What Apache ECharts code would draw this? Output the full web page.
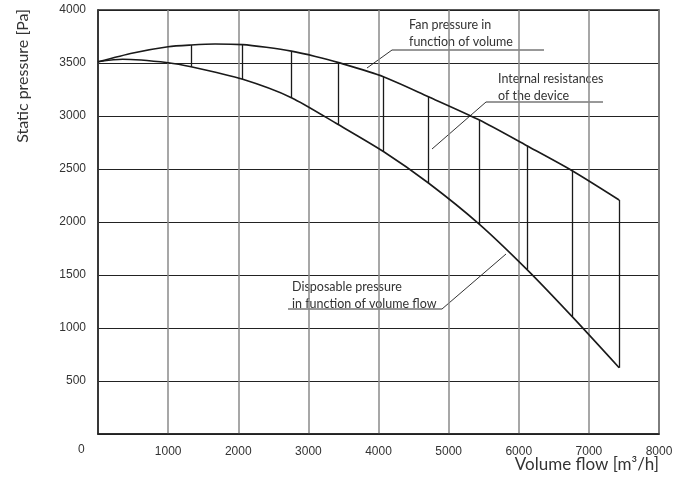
<!DOCTYPE html>
<html>
<head>
<meta charset="utf-8">
<script src="https://cdn.jsdelivr.net/npm/echarts@6/dist/echarts.min.js"></script>
<style>
  html, body { margin: 0; padding: 0; background: #fff; }
  #chart { width: 690px; height: 486px; }
</style>
</head>
<body>
<div id="chart"></div>
<script>
// values
const fanFlow     = [0, 500, 1000, 1327, 1669, 2064, 2400, 2758, 3100, 3419, 4070, 4712, 5440, 6115, 6762, 7432];
const fanPressure = [3512, 3595, 3654, 3670, 3679, 3673, 3648, 3612, 3562, 3506, 3371, 3182, 2962, 2720, 2484, 2208];

const dispFlow     = [0, 350, 1000, 1327, 2064, 2758, 3419, 4070, 4712, 5440, 6115, 6762, 7432];
const dispPressure = [3512, 3535, 3503, 3465, 3346, 3173, 2922, 2665, 2368, 1978, 1553, 1107, 625];

// vertical connectors between the two curves
const stepFlow = [1327, 2064, 2758, 3419, 4070, 4712, 5440, 6115, 6762, 7432];
const stepHigh = [3670, 3673, 3612, 3506, 3371, 3182, 2962, 2720, 2484, 2208];
const stepLow  = [3465, 3346, 3173, 2922, 2665, 2368, 1978, 1553, 1107, 625];

const xTicks = [0, 1000, 2000, 3000, 4000, 5000, 6000, 7000, 8000];
const yTicks = [0, 500, 1000, 1500, 2000, 2500, 3000, 3500, 4000];

const txtFont = 'Lato, "Open Sans", sans-serif';
const lineCol = '#1a1a1a';

let chart = echarts.init(document.getElementById('chart'));

let connectors = stepFlow.map(function (x, i) {
    return [{ coord: [x, stepLow[i]] }, { coord: [x, stepHigh[i]] }];
});

function label(x, y, lines) {
    return {
        type: 'text', left: x, top: y,
        style: { text: lines, font: '12.5px ' + txtFont, fill: '#333', lineHeight: 17 }
    };
}
function seg(pts) {
    return {
        type: 'polyline',
        shape: { points: pts },
        style: { stroke: '#333', lineWidth: 1, fill: null }
    };
}

let option = {
    backgroundColor: '#fff',
    animation: false,
    grid: {
        left: 98, top: 10, right: 31, bottom: 52,
        show: true, borderColor: '#222', borderWidth: 1.5
    },
    xAxis: {
        type: 'value',
        min: xTicks[0], max: xTicks[xTicks.length - 1], interval: 1000,
        axisLine: { show: true, lineStyle: { color: '#222', width: 1.5 } },
        axisTick: { show: false },
        axisLabel: {
            color: '#333', fontSize: 12, fontFamily: 'Liberation Sans, Arial, sans-serif', margin: 12,
            formatter: function (v) { return v === 0 ? '' : String(v); }
        },
        splitLine: { show: true, lineStyle: { color: '#8a8a8a', width: 1.5 } }
    },
    yAxis: {
        type: 'value',
        min: yTicks[0], max: yTicks[yTicks.length - 1], interval: 500,
        axisLine: { show: true, lineStyle: { color: '#222', width: 1.5 } },
        axisTick: { show: false },
        axisLabel: {
            color: '#333', fontSize: 12, fontFamily: 'Liberation Sans, Arial, sans-serif', margin: 12,
            formatter: function (v) { return v === 0 ? '' : String(v); }
        },
        splitLine: { show: true, lineStyle: { color: '#222', width: 1.2 } }
    },
    series: [
        {
            name: 'Fan pressure',
            type: 'line',
            data: fanFlow.map(function (x, i) { return [x, fanPressure[i]]; }),
            smooth: 0.25,
            symbol: 'none',
            lineStyle: { color: lineCol, width: 1.6 },
            markLine: {
                silent: true,
                symbol: 'none',
                label: { show: false },
                lineStyle: { color: lineCol, width: 1.3, type: 'solid' },
                data: connectors
            }
        },
        {
            name: 'Disposable pressure',
            type: 'line',
            data: dispFlow.map(function (x, i) { return [x, dispPressure[i]]; }),
            smooth: 0.25,
            symbol: 'none',
            lineStyle: { color: lineCol, width: 1.6 }
        }
    ],
    graphic: [
        {
            type: 'text', left: 78, top: 444,
            style: { text: '0', font: '12px Liberation Sans, Arial, sans-serif', fill: '#333' }
        },
        {
            type: 'text', x: 15, y: 9, rotation: Math.PI / 2,
            style: { text: 'Static pressure [Pa]', font: '16px ' + txtFont, fill: '#333', align: 'right', verticalAlign: 'top' }
        },
        {
            type: 'text', right: 31, top: 456,
            style: { text: 'Volume flow [m\u00b3/h]', font: '17px ' + txtFont, fill: '#333' }
        },
        label(409, 16, 'Fan pressure in\nfunction of volume'),
        seg([[367, 68], [392, 50], [544, 50]]),
        label(498, 70, 'Internal resistances\nof the device'),
        seg([[432, 149], [486, 102], [603, 102]]),
        label(292, 278, 'Disposable pressure\nin function of volume flow'),
        seg([[288, 309], [442, 309], [506, 254]])
    ]
};

chart.setOption(option);
window.addEventListener('resize', function () {
    chart.resize();
});
</script>
</body>
</html>
